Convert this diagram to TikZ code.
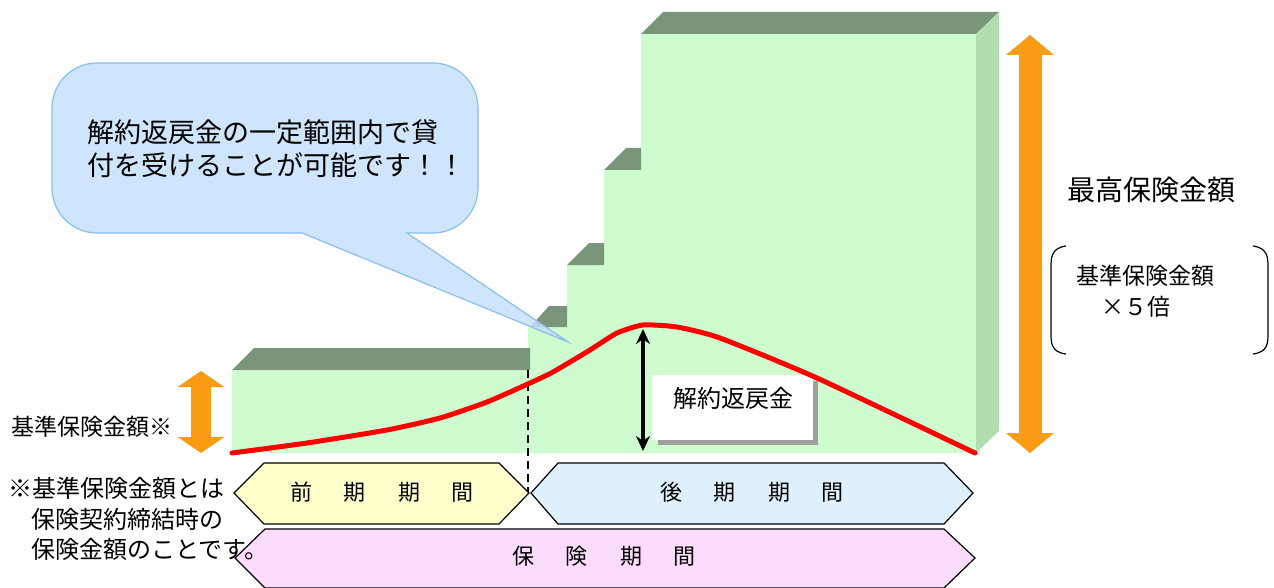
\documentclass[tikz,border=0pt]{standalone}
\usepackage{fontspec}
\setmainfont{Noto Sans CJK JP}
\usetikzlibrary{arrows.meta}
\definecolor{frontc}{RGB}{207,252,207}
\definecolor{topc}{RGB}{122,150,122}
\definecolor{sidec}{RGB}{176,222,176}
\definecolor{redc}{RGB}{255,0,0}
\definecolor{orng}{RGB}{250,155,20}
\definecolor{bubf}{RGB}{197,224,250}
\definecolor{bubd}{RGB}{140,190,240}
\definecolor{yelc}{RGB}{255,255,204}
\definecolor{bluc}{RGB}{221,240,252}
\definecolor{pnkc}{RGB}{252,220,252}
\tikzset{
  orangearrow/.style={draw=orng, line width=23pt, {Triangle[width=47pt,length=20pt]}-{Triangle[width=47pt,length=20pt]}},
  orangesmall/.style={draw=orng, line width=20pt, {Triangle[width=46pt,length=16pt]}-{Triangle[width=46pt,length=16pt]}},
  chev/.style={draw=black, line width=1.2pt, line join=miter},
  lbl/.style={inner sep=0pt, font=\fontsize{#1}{#1}\selectfont},
}
\newcommand{\gp}{\hspace{32pt}}
\begin{document}
\begin{tikzpicture}[x=1pt,y=-1pt]
\useasboundingbox (0,0) rectangle (1274,588);
% front faces of the steps
\fill[frontc] (232,453) -- (232,370) -- (528,370) -- (528,327) -- (567,327) -- (567,265) -- (604,265) -- (604,170) -- (641,170) -- (641,34) -- (976,34) -- (976,453) -- cycle;
% top faces
\fill[topc] (232,370) -- (254,348) -- (530,348) -- (530,370) -- cycle;
\fill[topc] (530,327) -- (549,306) -- (567,306) -- (567,327) -- cycle;
\fill[topc] (567,265) -- (589,243) -- (604,243) -- (604,265) -- cycle;
\fill[topc] (604,170) -- (626,148) -- (641,148) -- (641,170) -- cycle;
\fill[topc] (641,34) -- (663,12) -- (999,12) -- (976,34) -- cycle;
% side face
\fill[sidec] (976,34) -- (999,12) -- (999,431) -- (976,453) -- cycle;

% dashed divider
\coordinate (d1) at (528,370);
\coordinate (d2) at (528,492);
\draw[black, line width=2.5pt, dash pattern=on 8pt off 5pt] (d1) -- (d2);

% surrender value box
\fill[gray!75] (658,381) rectangle (818,445);
\node[fill=white, minimum width=161pt, minimum height=65pt, inner sep=0pt] (rvbox) at (732.5,407.5) {};
\node[lbl=24] (rv) at (733,398) {解約返戻金};

% red curve
\draw[redc, line width=5pt, line join=round, line cap=round]
  plot[smooth, tension=0.35] coordinates {(232,453) (307,443) (387,430) (440,418) (487,402) (530,383) (553,372) (590,350) (617,333) (643,325) (677,327) (720,338) (817,378) (975,453)};

% black double arrow
\coordinate (ba1) at (643,329);
\coordinate (ba2) at (643,451);
\draw[line width=3.5pt, {Stealth[length=15pt,width=14pt]}-{Stealth[length=15pt,width=14pt]}] (ba1) -- (ba2);

% orange arrows
\coordinate (ra1) at (1030,35);
\coordinate (ra2) at (1030,453);
\draw[orangearrow] (ra1) -- (ra2);
\coordinate (la1) at (201,371);
\coordinate (la2) at (201,453);
\draw[orangesmall] (la1) -- (la2);

% speech bubble
\draw[fill=bubf, draw=bubd, line width=1.2pt, fill opacity=0.85]
  (302,233) -- (568,342) -- (407,233) [rounded corners=45pt] -- (478,233) -- (478,63) -- (52,63) -- (52,233) [sharp corners] -- cycle;
\node[lbl=27, anchor=west, align=left] (bt) at (87,148.5) {解約返戻金の一定範囲内で貸\\[6pt]付を受けることが可能です！！};

% chevrons
\draw[chev, fill=yelc] (234,493) -- (264,463) -- (499,463) -- (529,493) -- (499,524) -- (264,524) -- cycle;
\node[lbl=22] (p1) at (382,492) {前\gp 期\gp 期\gp 間};
\draw[chev, fill=bluc] (531,493) -- (558,463) -- (944,463) -- (973,493) -- (944,524) -- (558,524) -- cycle;
\node[lbl=22] (p2) at (752,492) {後\gp 期\gp 期\gp 間};
\draw[chev, fill=pnkc] (235,558) -- (265,529) -- (944,529) -- (975,558) -- (944,588) -- (265,588) -- cycle;
\node[lbl=22] (p3) at (604,556) {保\gp 険\gp 期\gp 間};

% left texts
\node[lbl=23, anchor=west] (kl) at (11,427) {基準保険金額※};
\node[lbl=24, anchor=west] (n1) at (8,488) {※基準保険金額とは};
\node[lbl=24, anchor=west] (n2) at (31,519) {保険契約締結時の};
\node[lbl=24, anchor=west] (n3) at (31,549) {保険金額のことです。};

% right texts
\node[lbl=28, anchor=west] (mx) at (1067,190) {最高保険金額};
\node[lbl=23, anchor=west] (b1) at (1076,276) {基準保険金額};
\node[lbl=23, anchor=west] (b2) at (1101,307) {×５倍};
\draw[line width=1.2pt] (1066,246) .. controls (1051,248) and (1051,258) .. (1051,268) -- (1051,333) .. controls (1051,343) and (1051,352) .. (1066,354);
\draw[line width=1.2pt] (1253,246) .. controls (1268,248) and (1268,258) .. (1268,268) -- (1268,333) .. controls (1268,343) and (1268,352) .. (1253,354);
\end{tikzpicture}
\end{document}
